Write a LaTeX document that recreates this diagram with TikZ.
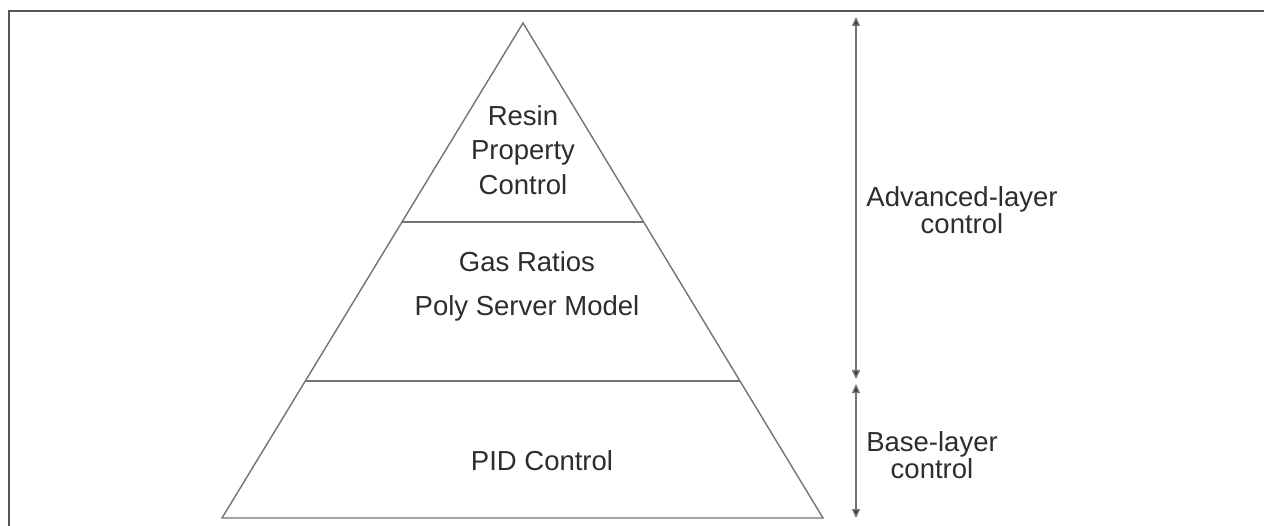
\documentclass[tikz,border=0pt]{standalone}
\usepackage{fontspec}
\setmainfont{Liberation Sans}
\usetikzlibrary{arrows.meta,calc}
\definecolor{framegray}{RGB}{85,85,85}
\definecolor{linegray}{RGB}{115,115,115}
\definecolor{tipgray}{RGB}{60,60,60}
\definecolor{textgray}{RGB}{45,45,45}
\begin{document}
\begin{tikzpicture}[x=1pt,y=-1pt,
  layerline/.style={draw=linegray,line width=1.4pt,line join=miter},
  lbl/.style={text=textgray,inner sep=0pt,align=center},
  span/.style={draw=linegray,line width=1.3pt,
    {Triangle[width=8pt,length=9pt,fill=tipgray]}-{Triangle[width=8pt,length=9pt,fill=tipgray]}}]
\useasboundingbox (0,0) rectangle (1264,526);
% open frame: top and left edges
\draw[framegray,line width=2.6pt] (9,526) -- (9,11) -- (1264,11);
% pyramid outline and layer divisions
\coordinate (apex) at (523,23);
\coordinate (bl) at (222,518);
\coordinate (br) at (823,518);
\draw[layerline] (apex) -- (br) -- (bl) -- cycle;
\draw[layerline] ($(apex)!0.4020!(bl)$) coordinate (d1l) -- ($(apex)!0.4020!(br)$) coordinate (d1r);
\draw[layerline] ($(apex)!0.7232!(bl)$) coordinate (d2l) -- ($(apex)!0.7232!(br)$) coordinate (d2r);
% layer labels
\node[lbl,font=\fontsize{27.5}{34.5}\selectfont] (top) at (523,150) {Resin\\Property\\Control};
\node[lbl,font=\fontsize{27.5}{44}\selectfont] (mid) at (527,286) {Gas Ratios\\Poly Server Model};
\node[lbl,font=\fontsize{27.5}{32}\selectfont,anchor=base] (bot) at (542,470) {PID Control};
% extent arrows
\coordinate (a1) at (856,17);
\coordinate (a2) at (856,379);
\coordinate (b1) at (856,384);
\coordinate (b2) at (856,518);
\draw[span] (a1) -- (a2);
\draw[span] (b1) -- (b2);
\node[lbl,font=\fontsize{27.5}{22}\selectfont] (adv) at (962,210) {Advanced-layer\\control};
\node[lbl,font=\fontsize{27.5}{22}\selectfont] (base) at (932,455) {Base-layer\\control};
\end{tikzpicture}
\end{document}
